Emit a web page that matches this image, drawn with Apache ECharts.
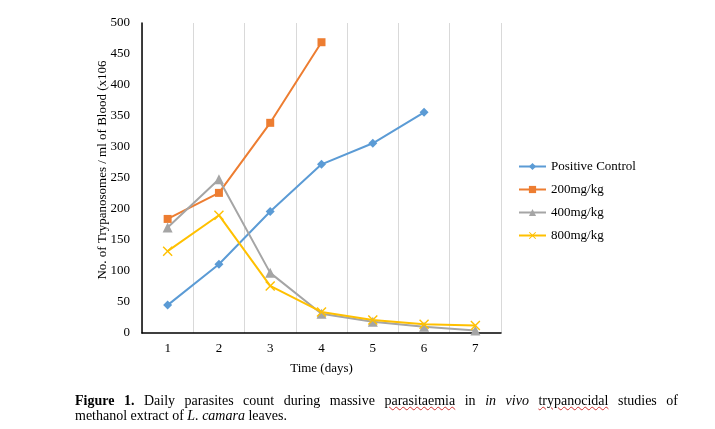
<!DOCTYPE html>
<html>
<head>
<meta charset="utf-8">
<script src="https://cdn.jsdelivr.net/npm/echarts@6/dist/echarts.min.js"></script>
<style>
    html, body { margin: 0; padding: 0; background: #fff; }
    #chart { width: 715px; height: 429px; position: absolute; left: 0; top: 0; }
    .caption {
        position: absolute; left: 75px; top: 393px; width: 603px;
        font-family: "Liberation Serif", "Times New Roman", serif;
        font-size: 14px; line-height: 15px; color: #000;
    }
    .caption .l1 { text-align: justify; text-align-last: justify; white-space: nowrap; }
    .caption .l2 { text-align: left; }
    .sp { text-decoration: underline wavy #d03030; text-decoration-thickness: 1px; }
</style>
</head>
<body>
<div id="chart"></div>
<div class="caption">
    <div class="l1"><b>Figure 1.</b> Daily parasites count during massive <span class="sp">parasitaemia</span> in <i>in vivo</i> <span class="sp">trypanocidal</span> studies of</div>
    <div class="l2">methanol extract of <i>L. camara</i> leaves.</div>
</div>
<script>
const days = ['1', '2', '3', '4', '5', '6', '7'];
const positiveControl = [45, 111, 196, 272, 306, 356, null];
const dose200 = [184, 226, 339, 469, null, null, null];
const dose400 = [170, 248, 97, 31, 18, 10, 4];
const dose800 = [132, 190, 76, 34, 21, 14, 12];

const serif = '"Liberation Serif", "Times New Roman", serif';
const crossPath = 'path://M0,1 L1,0 L5,4 L9,0 L10,1 L6,5 L10,9 L9,10 L5,6 L1,10 L0,9 L4,5 Z';

const chart = echarts.init(document.getElementById('chart'));

function line(name, data, color, symbol, size) {
    return {
        name: name,
        type: 'line',
        data: data,
        symbol: symbol,
        symbolSize: size,
        showAllSymbol: true,
        connectNulls: false,
        lineStyle: { color: color, width: 2 },
        itemStyle: { color: color },
        animation: false
    }
}

chart.setOption({
    animation: false,
    textStyle: { fontFamily: serif },
    grid: { left: 142, right: 214, top: 23, bottom: 96 },
    legend: {
        orient: 'vertical',
        left: 513,
        top: 155,
        itemWidth: 27,
        itemHeight: 9,
        itemGap: 10,
        textStyle: { fontFamily: serif, fontSize: 13, color: '#000' },
        data: ['Positive Control', '200mg/kg', '400mg/kg', '800mg/kg']
    },
    xAxis: {
        type: 'category',
        data: days,
        boundaryGap: true,
        name: 'Time (days)',
        nameLocation: 'middle',
        nameGap: 29,
        nameMoveOverlap: false,
        nameTextStyle: { fontFamily: serif, fontSize: 13, color: '#000' },
        axisLine: { lineStyle: { color: '#000', width: 1.5 } },
        axisTick: { show: false },
        axisLabel: { fontFamily: serif, fontSize: 13, color: '#000', margin: 9 },
        splitLine: { show: true, lineStyle: { color: '#d9d9d9', width: 1 } }
    },
    yAxis: {
        type: 'value',
        min: 0,
        max: 500,
        interval: 50,
        name: 'No. of Trypanosomes / ml of Blood (x106',
        nameLocation: 'middle',
        nameGap: 33,
        nameMoveOverlap: false,
        nameTextStyle: { fontFamily: serif, fontSize: 13, color: '#000', padding: [0, 0, 0, 16] },
        axisLine: { show: true, lineStyle: { color: '#000', width: 1.5 } },
        axisTick: { show: false },
        axisLabel: { fontFamily: serif, fontSize: 13, color: '#000', margin: 12 },
        splitLine: { show: false }
    },
    series: [
        line('Positive Control', positiveControl, '#5B9BD5', 'diamond', 9),
        line('200mg/kg', dose200, '#ED7D31', 'rect', 8),
        line('400mg/kg', dose400, '#A5A5A5', 'triangle', 10),
        line('800mg/kg', dose800, '#FFC000', crossPath, 10)
    ]
});
</script>
</body>
</html>
